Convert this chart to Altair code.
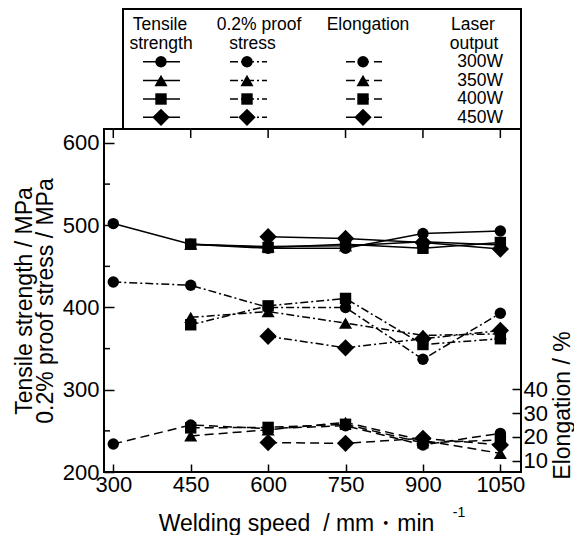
import altair as alt
import pandas as pd

# ---------------- data ----------------
speeds = [300, 450, 600, 750, 900, 1050]
powers = ["300W", "350W", "400W", "450W"]

tensile_300W = [502, 477, 472, 472, 490, 493]
tensile_350W = [None, 477, 474, 475, 480, 476]
tensile_400W = [None, 477, 473, 477, 472, 479]
tensile_450W = [None, None, 486, 484, 479, 471]

proof_300W = [431, 427, 400, 400, 337, 393]
proof_350W = [None, 388, 395, 381, 366, 368]
proof_400W = [None, 379, 402, 411, 355, 362]
proof_450W = [None, None, 365, 351, 362, 372]

elong_300W = [17.0, 25.0, 23.5, 24.7, 16.6, 21.5]
elong_350W = [None, 20.4, 23.0, 26.1, 18.5, 13.1]
elong_400W = [None, 23.8, 24.0, 25.3, 17.5, 18.7]
elong_450W = [None, None, 17.6, 17.3, 19.4, 16.6]

mpa_ticks = [200, 300, 400, 500, 600]
mpa_minor = [250, 350, 450, 550]
elong_ticks = [10, 20, 30, 40]

legend_headers = ["Tensile", "strength", "0.2% proof", "stress", "Elongation", "Laser", "output"]

# ---------------- style ----------------
FONT = "Liberation Sans"
W, H = 417, 343
X_DOM = [282, 1090]
MPA_DOM = [200, 617]
EL_DOM = [5.25, 149.4]
shapes = ["circle", "triangle-up", "square", "diamond"]
sizes = [130, 170, 130, 300]
DASH_PROOF = [8, 3, 2, 3]
DASH_EL = [9, 5]
LW = 1.5


def long(series):
    out = []
    for p, vals in zip(powers, series):
        for s, v in zip(speeds, vals):
            if v is not None:
                out.append({"speed": s, "power": p, "value": v})
    return pd.DataFrame(out)


tensile_df = long([tensile_300W, tensile_350W, tensile_400W, tensile_450W])
proof_df = long([proof_300W, proof_350W, proof_400W, proof_450W])
elong_df = long([elong_300W, elong_350W, elong_400W, elong_450W])

xs = alt.Scale(domain=X_DOM, nice=False, zero=False)
ys_mpa = alt.Scale(domain=MPA_DOM, nice=False, zero=False)
ys_el = alt.Scale(domain=EL_DOM, nice=False, zero=False)

shape_enc = alt.Shape("power:N", scale=alt.Scale(domain=powers, range=shapes), legend=None)
size_enc = alt.Size("power:N", scale=alt.Scale(type="ordinal", domain=powers, range=sizes), legend=None)

x_axis = alt.Axis(
    orient="bottom", values=speeds, format="d", offset=-8, tickSize=8, tickWidth=1.5,
    tickColor="black", domain=False, grid=False, labelFont=FONT, labelFontSize=22,
    labelColor="black", labelPadding=2, labelFlush=False, labelOverlap=False,
    title="Welding speed\u00a0 / mm・min", titleFont=FONT, titleFontSize=23,
    titleFontWeight="normal", titleColor="black", titleX=192, titleY=66,
    titleBaseline="alphabetic", titleAlign="center",
)
y_axis = alt.Axis(
    orient="left", values=mpa_ticks, format="d", offset=-10, tickSize=10, tickWidth=1.5,
    tickColor="black", domain=False, grid=False, labelFont=FONT, labelFontSize=22,
    labelColor="black", labelPadding=5, labelFlush=False, labelOverlap=False,
    title=["Tensile strength / MPa", "0.2% proof stress / MPa"], titleFont=FONT,
    titleFontSize=23, titleFontWeight="normal", titleColor="black", titleAngle=270,
    titleX=-101, titleY=171.5, titleBaseline="top", titleAlign="center", titleLineHeight=21,
)
el_axis = alt.Axis(
    orient="right", values=elong_ticks, format="d", offset=-9, tickSize=9, tickWidth=1.5,
    tickColor="black", domain=False, grid=False, labelFont=FONT, labelFontSize=22,
    labelColor="black", labelPadding=2, labelFlush=False, labelOverlap=False,
    title="Elongation / %", titleFont=FONT, titleFontSize=23, titleFontWeight="normal",
    titleColor="black", titleAngle=270, titleX=50, titleY=276,
    titleBaseline="middle", titleAlign="center",
)


def lines(df, yscale, dash=None, xaxis=None, yaxis=None):
    kw = dict(color="black", strokeWidth=LW)
    if dash:
        kw["strokeDash"] = dash
    return alt.Chart(df).mark_line(**kw).encode(
        x=alt.X("speed:Q", scale=xs, axis=xaxis),
        y=alt.Y("value:Q", scale=yscale, axis=yaxis),
        detail="power:N",
    )


def points(df, yscale):
    return alt.Chart(df).mark_point(filled=True, color="black", opacity=1).encode(
        x=alt.X("speed:Q", scale=xs, axis=None),
        y=alt.Y("value:Q", scale=yscale, axis=None),
        shape=shape_enc,
        size=size_enc,
    )


minor_ticks = alt.Chart(pd.DataFrame({"v": mpa_minor})).mark_rule(color="black", strokeWidth=1.5).encode(
    y=alt.Y("v:Q", scale=ys_mpa, axis=None), x=alt.value(0), x2=alt.value(6)
)
top_ticks = alt.Chart(pd.DataFrame({"s": speeds})).mark_rule(color="black", strokeWidth=1.5).encode(
    x=alt.X("s:Q", scale=xs, axis=None), y=alt.value(0), y2=alt.value(9)
)

# ---------------- legend (drawn above the plot) ----------------
one = pd.DataFrame({"a": [0]})
legend_box = alt.Chart(one).mark_rect(fillOpacity=0, stroke="black", strokeWidth=2).encode(
    x=alt.value(19), x2=alt.value(W), y=alt.value(-120), y2=alt.value(0)
)

hdr_x = [56, 57, 155, 148.5, 264, 369, 370]
hdr_y = [-99, -80.5, -99, -80.5, -99, -99, -80.5]
hdr_df = pd.DataFrame({"t": legend_headers, "lx": hdr_x, "ly": hdr_y})
pw_df = pd.DataFrame({"t": powers, "lx": [399] * 4, "ly": [-62.3, -43.5, -25, -6.3]})

txt_kw = dict(font=FONT, fontSize=17.5, color="black", baseline="alphabetic")
hdr_text = alt.Chart(hdr_df).mark_text(align="center", **txt_kw).encode(
    x=alt.X("lx:Q", scale=None, axis=None), y=alt.Y("ly:Q", scale=None, axis=None), text="t:N"
)
pw_text = alt.Chart(pw_df).mark_text(align="right", **txt_kw).encode(
    x=alt.X("lx:Q", scale=None, axis=None), y=alt.Y("ly:Q", scale=None, axis=None), text="t:N"
)

row_y = [-67.3, -48.5, -30, -11.7]
cols = [(39, 76, 57, None), (126, 163, 143, DASH_PROOF), (242, 278, 259, DASH_EL)]
legend_layers = []
pt_rows = []
for x0, x1, xm, dash in cols:
    ldf = pd.DataFrame({"x0": [x0] * 4, "x1": [x1] * 4, "ly": row_y})
    kw = dict(color="black", strokeWidth=LW)
    if dash:
        kw["strokeDash"] = dash
    legend_layers.append(
        alt.Chart(ldf).mark_rule(**kw).encode(
            x=alt.X("x0:Q", scale=None, axis=None),
            x2="x1:Q",
            y=alt.Y("ly:Q", scale=None, axis=None),
        )
    )
    for p, yv in zip(powers, row_y):
        pt_rows.append({"lx": xm, "ly": yv, "power": p})
legend_pts = alt.Chart(pd.DataFrame(pt_rows)).mark_point(filled=True, color="black", opacity=1).encode(
    x=alt.X("lx:Q", scale=None, axis=None),
    y=alt.Y("ly:Q", scale=None, axis=None),
    shape=shape_enc,
    size=size_enc,
)

sup = alt.Chart(one).mark_text(font=FONT, fontSize=14, color="black", align="center", baseline="alphabetic").encode(
    x=alt.value(355), y=alt.value(388), text=alt.value("-1")
)

chart = alt.layer(
    lines(tensile_df, ys_mpa, None, xaxis=x_axis, yaxis=y_axis),
    lines(proof_df, ys_mpa, DASH_PROOF),
    lines(elong_df, ys_el, DASH_EL, yaxis=el_axis),
    points(tensile_df, ys_mpa),
    points(proof_df, ys_mpa),
    points(elong_df, ys_el),
    minor_ticks,
    top_ticks,
    legend_box,
    hdr_text,
    pw_text,
    *legend_layers,
    legend_pts,
    sup,
).resolve_scale(x="independent", y="independent").properties(
    width=W, height=H, padding={"left": 5, "top": 0, "right": 0, "bottom": 0}
).configure_view(stroke="black", strokeWidth=2)

chart.save("out.html", embed_options={"renderer": "svg", "actions": False})
